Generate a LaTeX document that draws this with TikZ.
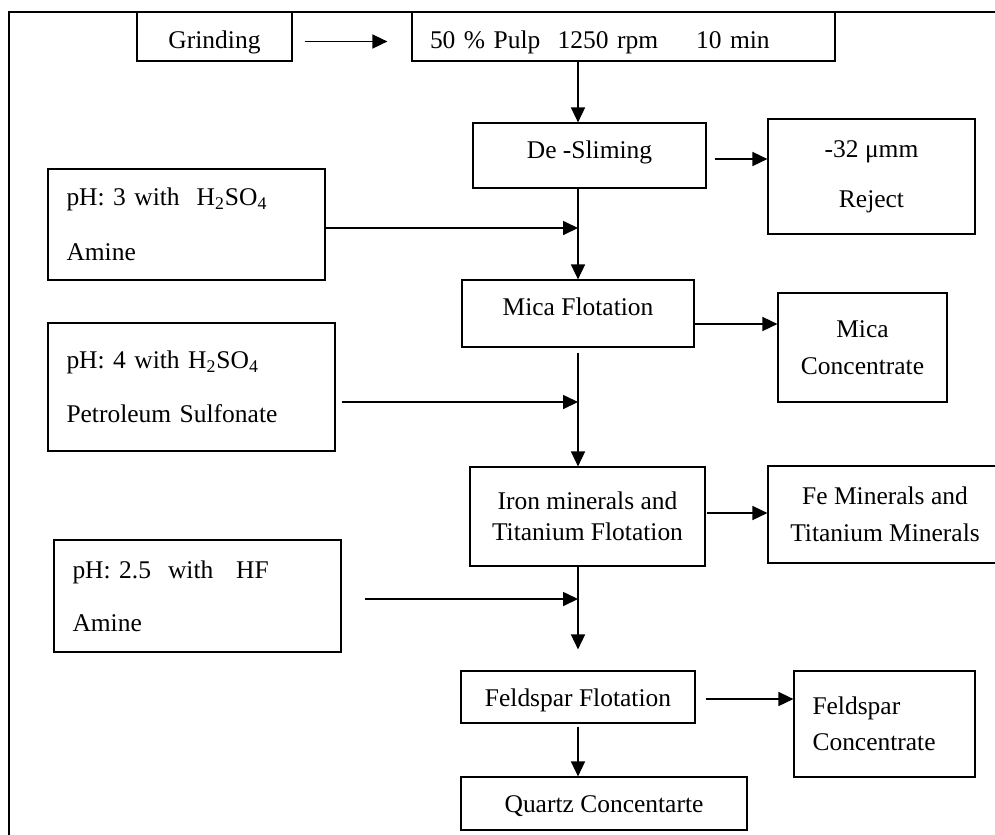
\documentclass[tikz,border=0pt]{standalone}
\usepackage{fontspec}
\setmainfont{Liberation Serif}
\usetikzlibrary{arrows.meta,calc,positioning}
\frenchspacing
\newcommand{\nudge}[2]{\raisebox{#1}[\height][\depth]{#2}}

\begin{document}
\begin{tikzpicture}[%
stage/.style = {draw, line width=0.7pt, align=center, inner sep=0pt, font={\fontsize{14.5}{17.5}\selectfont}},
leftstage/.style = {stage, align=left, inner xsep=0.37cm},
flow/.style = {-{Triangle[length=8.5pt,width=8pt]}, line width=0.7pt}]
\useasboundingbox (0,0) rectangle (19.9,-16.68);
\draw[line width=0.7pt] (20.5,-0.24) -- (0.18,-0.24) -- (0.18,-17.2);

\node[stage, minimum width=3.10cm, minimum height=0.98cm] (grind) at (4.29,-0.73) {\nudge{-3.4pt}{Grinding}};
\node[leftstage, text width=7.74cm, inner xsep=0.36cm, minimum height=0.98cm] (pulp) at (12.47,-0.73)
  {\nudge{-3.4pt}{\makebox[72.6pt][l]{50 \% Pulp}\makebox[78.8pt][l]{1250 rpm}10 min}};

\node[stage, minimum width=4.66cm, minimum height=1.30cm] (desl) at (11.79,-3.11) {\nudge{1.7pt}{De -Sliming}};
\node[stage, minimum width=4.14cm, minimum height=2.30cm] (reject) at (17.43,-3.53) {-32 μmm\\[10.8pt]Reject};
\node[leftstage, text width=4.80cm, minimum height=2.22cm] (acid3) at (3.73,-4.49)
  {pH: 3 with\ \ H\textsubscript{2}SO\textsubscript{4}\\[14pt]Amine};

\node[stage, minimum width=4.64cm, minimum height=1.34cm] (mica) at (11.56,-6.27) {\nudge{4pt}{Mica Flotation}};
\node[stage, minimum width=3.38cm, minimum height=2.18cm] (micacon) at (17.25,-6.95) {Mica\\[3.5pt]Concentrate};
\node[leftstage, text width=5.00cm, minimum height=2.56cm] (acid4) at (3.83,-7.74)
  {pH: 4 with H\textsubscript{2}SO\textsubscript{4}\\[13pt]Petroleum Sulfonate};

\node[stage, minimum width=4.70cm, minimum height=1.98cm] (iron) at (11.75,-10.33) {Iron minerals and\\Titanium Flotation};
\node[stage, minimum width=4.68cm, minimum height=1.94cm] (fecon) at (17.70,-10.29) {Fe Minerals and\\[3.5pt]Titanium Minerals};
\node[leftstage, text width=5.00cm, minimum height=2.24cm] (acid25) at (3.95,-11.92)
  {pH: 2.5\ \ with\hspace{13pt}HF\\[12.5pt]Amine};

\node[stage, minimum width=4.68cm, minimum height=1.04cm] (feld) at (11.56,-13.94) {\nudge{-1.7pt}{Feldspar Flotation}};
\node[leftstage, text width=2.88cm, minimum height=2.12cm] (feldcon) at (17.69,-14.48) {Feldspar\\[3pt]Concentrate};
\node[stage, minimum width=5.72cm, minimum height=1.06cm] (quartz) at (12.08,-16.07) {\nudge{-1.7pt}{Quartz Concentarte}};

\draw[flow] ($(grind.east)+(0.24,-0.1)$) -- ($(pulp.west)+(-0.48,-0.1)$);
\draw[flow] (pulp.south -| mica.north) -- (desl.north -| mica.north);
\draw[flow] ($(desl.east)+(0.16,-0.07)$) -- ($(desl.east -| reject.west)+(0,-0.07)$);
\draw[flow] (desl.south -| mica.north) -- (mica.north);
\draw[flow] ($(acid3.east)+(0,-0.07)$) -- ($(acid3.east -| mica.north)+(0,-0.07)$);
\draw[flow] ($(mica.east)+(0,-0.21)$) -- ($(mica.east -| micacon.west)+(0,-0.21)$);
\draw[flow] ($(mica.south)+(0,-0.1)$) -- (mica.south |- iron.north);
\draw[flow] ($(acid4.east)+(0.12,-0.3)$) -- ($(acid4.east -| mica.south)+(0,-0.3)$);
\draw[flow] ($(iron.east)+(0.02,0.07)$) -- ($(iron.east -| fecon.west)+(0,0.07)$);
\draw[flow] (iron.south -| feld.north) -- ($(feld.north)+(0,0.42)$);
\draw[flow] ($(acid25.east)+(0.46,-0.06)$) -- ($(acid25.east -| feld.north)+(0,-0.06)$);
\draw[flow] ($(feld.east)+(0.2,-0.04)$) -- ($(feld.east -| feldcon.west)+(0,-0.04)$);
\draw[flow] ($(feld.south)+(0,-0.06)$) -- (quartz.north -| feld.south);
\end{tikzpicture}
\end{document}
